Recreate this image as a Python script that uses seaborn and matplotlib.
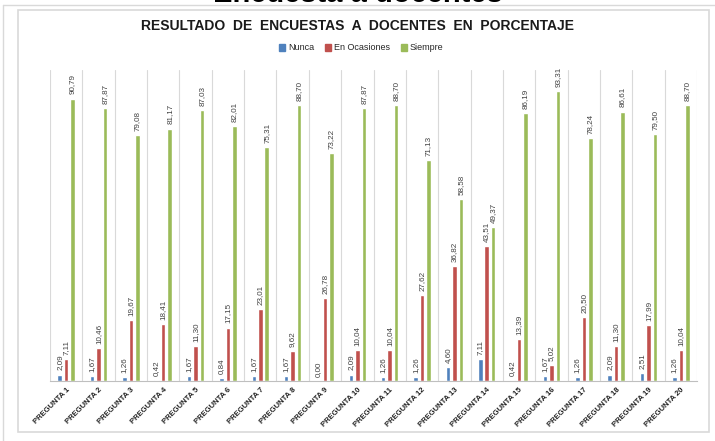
import matplotlib
matplotlib.use("Agg")
import matplotlib.pyplot as plt
import seaborn as sns
import pandas as pd
from matplotlib.patches import Rectangle
from matplotlib.lines import Line2D

categories = [f"PREGUNTA {i}" for i in range(1, 21)]
nunca = [2.09, 1.67, 1.26, 0.42, 1.67, 0.84, 1.67, 1.67, 0.00, 2.09,
         1.26, 1.26, 4.60, 7.11, 0.42, 1.67, 1.26, 2.09, 2.51, 1.26]
en_ocasiones = [7.11, 10.46, 19.67, 18.41, 11.30, 17.15, 23.01, 9.62, 26.78, 10.04,
                10.04, 27.62, 36.82, 43.51, 13.39, 5.02, 20.50, 11.30, 17.99, 10.04]
siempre = [90.79, 87.87, 79.08, 81.17, 87.03, 82.01, 75.31, 88.70, 73.22, 87.87,
           88.70, 71.13, 58.58, 49.37, 86.19, 93.31, 78.24, 86.61, 79.50, 88.70]
series_names = ["Nunca", "En Ocasiones", "Siempre"]
colors = ["#4F81BD", "#C0504D", "#9BBB59"]

rows = []
for name, vals in zip(series_names, [nunca, en_ocasiones, siempre]):
    for c, v in zip(categories, vals):
        rows.append({"Pregunta": c, "Serie": name, "Valor": v})
df = pd.DataFrame(rows)

sns.set_style("white")
plt.rcParams["font.family"] = ["Liberation Sans", "DejaVu Sans"]

fig = plt.figure(figsize=(7.15, 4.41), dpi=100)
ax = fig.add_axes([50/715, 1-381/441, (697-50)/715, (381-70)/441])

sns.barplot(data=df, x="Pregunta", y="Valor", hue="Serie", order=categories,
            hue_order=series_names, palette=colors, width=0.6, gap=0.3,
            errorbar=None, ax=ax, legend=False, saturation=1)

ax.set_ylim(0, 100)
ax.set_xlim(-0.5, len(categories) - 0.5)
ax.set_xlabel("")
ax.set_ylabel("")
ax.set_yticks([])
ax.set_xticks(range(len(categories)))
ax.set_xticklabels(categories, rotation=45, ha="right", rotation_mode="anchor",
                   fontsize=5.5, fontweight="bold", color="#222222")
ax.tick_params(axis="x", length=0, pad=4)
ax.set_xticks([i - 0.5 for i in range(len(categories) + 1)], minor=True)
ax.grid(which="minor", axis="x", color="#D9D9D9", linewidth=0.8)
ax.tick_params(which="minor", length=0)
for s in ["left", "top", "right"]:
    ax.spines[s].set_visible(False)
ax.spines["bottom"].set_color("#BFBFBF")
ax.spines["bottom"].set_linewidth(0.8)

for cont in ax.containers:
    labels = [f"{b.get_height():.2f}".replace(".", ",") for b in cont]
    ax.bar_label(cont, labels=labels, rotation=90, fontsize=5.8, padding=3,
                 color="#404040")

# Chart title and legend
fig.text(0.5, 1 - 26/441, "RESULTADO  DE  ENCUESTAS  A  DOCENTES  EN  PORCENTAJE",
         ha="center", va="center", fontsize=10, fontweight="bold", color="#1a1a1a")
handles = [Rectangle((0, 0), 1, 1, color=c) for c in colors]
fig.legend(handles, series_names, loc="center", bbox_to_anchor=(0.505, 1 - 48/441),
           ncol=3, frameon=False, fontsize=6.5, handlelength=0.7, handleheight=0.7,
           columnspacing=1.2, handletextpad=0.3)

# Cut-off heading at top
fig.text(0.5, 1 - 1.5/441, "Encuesta a docentes", ha="center", va="baseline",
         fontsize=21, fontweight="bold", color="black")

# Frames
fig.add_artist(Rectangle((18/715, 1-432/441), (709-18)/715, (432-10)/441,
                         transform=fig.transFigure, fill=False,
                         edgecolor="#D9D9D9", linewidth=1.2))
fig.add_artist(Line2D([3/715, 1], [1-5/441, 1-5/441], transform=fig.transFigure,
                      color="#D9D9D9", linewidth=1))
fig.add_artist(Line2D([3/715, 3/715], [0, 1-5/441], transform=fig.transFigure,
                      color="#D9D9D9", linewidth=1))

fig.savefig("out.png", dpi=100)
